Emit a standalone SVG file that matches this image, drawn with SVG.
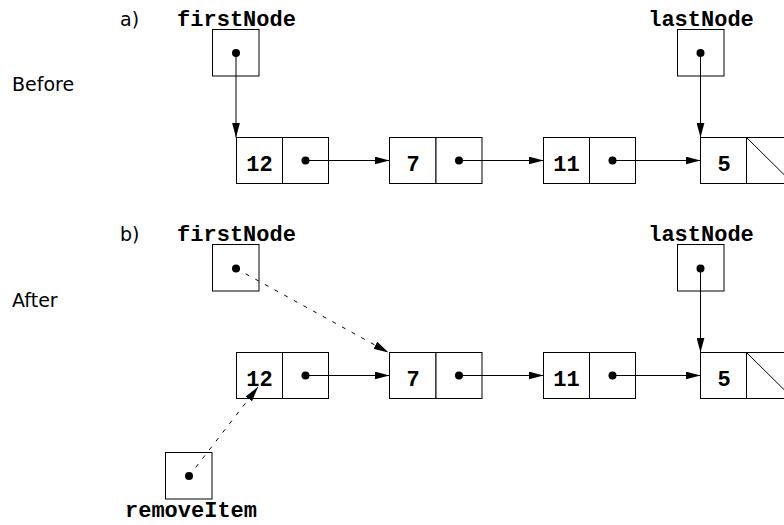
<svg xmlns="http://www.w3.org/2000/svg" width="784" height="525" viewBox="0 0 784 525">
  <style>
    .box { fill: #fff; stroke: #000; stroke-width: 1; }
    .ln { fill: none; stroke: #000; stroke-width: 1; }
    .dash { fill: none; stroke: #000; stroke-width: 1; stroke-dasharray: 4 7; }
    .dot { fill: #000; }
    .mono { font-family: "Liberation Mono", "Courier New", monospace; font-weight: bold; font-size: 22px; fill: #000; }
    .val { font-family: "Liberation Mono", "Courier New", monospace; font-weight: bold; font-size: 22px; fill: #000; text-anchor: middle; }
    .sans { font-family: "DejaVu Sans", "Liberation Sans", sans-serif; font-size: 19px; fill: #000; }
  </style>
  <defs>
    <marker id="arrow" markerUnits="userSpaceOnUse" markerWidth="15" markerHeight="8" refX="15" refY="4" orient="auto">
      <path d="M0,0 L15,4 L0,8 z" fill="#000"/>
    </marker>
  </defs>

  <!-- side labels -->
  <text class="sans" x="12" y="91">Before</text>
  <text class="sans" x="12" y="307">After</text>
  <text class="sans" x="120" y="26">a)</text>
  <text class="sans" x="120" y="241">b)</text>

  <!-- ===== a) before ===== -->
  <g id="a-firstNode">
    <text class="mono" x="236.5" y="26" text-anchor="middle">firstNode</text>
    <rect class="box" x="212.5" y="29.5" width="46.5" height="46.5"/>
    <circle class="dot" cx="236" cy="53" r="4"/>
  </g>
  <g id="a-lastNode">
    <text class="mono" x="701" y="26" text-anchor="middle">lastNode</text>
    <rect class="box" x="677.5" y="29.5" width="46.5" height="46.5"/>
    <circle class="dot" cx="700.5" cy="53" r="4"/>
  </g>
  <g id="a-node12">
    <rect class="box" x="236.5" y="137.5" width="46" height="46"/>
    <rect class="box" x="282.5" y="137.5" width="46" height="46"/>
    <text class="val" x="259.5" y="171">12</text>
    <circle class="dot" cx="305.5" cy="160.5" r="4"/>
  </g>
  <g id="a-node7">
    <rect class="box" x="389.5" y="137.5" width="46.5" height="46"/>
    <rect class="box" x="436" y="137.5" width="46" height="46"/>
    <text class="val" x="413" y="171">7</text>
    <circle class="dot" cx="459" cy="160.5" r="4"/>
  </g>
  <g id="a-node11">
    <rect class="box" x="543.5" y="137.5" width="46" height="46"/>
    <rect class="box" x="589.5" y="137.5" width="46" height="46"/>
    <text class="val" x="566.5" y="171">11</text>
    <circle class="dot" cx="612.5" cy="160.5" r="4"/>
  </g>
  <g id="a-node5">
    <rect class="box" x="700.5" y="137.5" width="46" height="46"/>
    <rect class="box" x="746.5" y="137.5" width="46.5" height="46"/>
    <text class="val" x="724" y="171">5</text>
    <line class="ln" x1="746.5" y1="137.5" x2="793" y2="183.5"/>
  </g>

  <!-- ===== b) after ===== -->
  <g id="b-firstNode">
    <text class="mono" x="236.5" y="240.5" text-anchor="middle">firstNode</text>
    <rect class="box" x="212.5" y="244.5" width="46.5" height="46.5"/>
    <circle class="dot" cx="236" cy="268.5" r="4"/>
  </g>
  <g id="b-lastNode">
    <text class="mono" x="701" y="240.5" text-anchor="middle">lastNode</text>
    <rect class="box" x="677.5" y="244.5" width="46.5" height="46.5"/>
    <circle class="dot" cx="700.5" cy="268.5" r="4"/>
  </g>
  <g id="b-node12">
    <rect class="box" x="236.5" y="352.5" width="46" height="46"/>
    <rect class="box" x="282.5" y="352.5" width="46" height="46"/>
    <text class="val" x="259.5" y="386">12</text>
    <circle class="dot" cx="305.5" cy="375.5" r="4"/>
  </g>
  <g id="b-node7">
    <rect class="box" x="389.5" y="352.5" width="46.5" height="46"/>
    <rect class="box" x="436" y="352.5" width="46" height="46"/>
    <text class="val" x="413" y="386">7</text>
    <circle class="dot" cx="459" cy="375.5" r="4"/>
  </g>
  <g id="b-node11">
    <rect class="box" x="543.5" y="352.5" width="46" height="46"/>
    <rect class="box" x="589.5" y="352.5" width="46" height="46"/>
    <text class="val" x="566.5" y="386">11</text>
    <circle class="dot" cx="612.5" cy="375.5" r="4"/>
  </g>
  <g id="b-node5">
    <rect class="box" x="700.5" y="352.5" width="46" height="46"/>
    <rect class="box" x="746.5" y="352.5" width="46.5" height="46"/>
    <text class="val" x="724" y="386">5</text>
    <line class="ln" x1="746.5" y1="352.5" x2="793" y2="398.5"/>
  </g>
  <g id="b-removeItem">
    <rect class="box" x="165.5" y="452.5" width="46.5" height="46.5"/>
    <circle class="dot" cx="189" cy="476" r="4"/>
    <text class="mono" x="191" y="517" text-anchor="middle">removeItem</text>
  </g>

  <!-- references between nodes -->
  <g id="connectors">
    <line class="ln" x1="236" y1="53" x2="236" y2="137.5" marker-end="url(#arrow)"/>
    <line class="ln" x1="700.5" y1="53" x2="700.5" y2="137.5" marker-end="url(#arrow)"/>
    <line class="ln" x1="305.5" y1="160.5" x2="389.5" y2="160.5" marker-end="url(#arrow)"/>
    <line class="ln" x1="459" y1="160.5" x2="543.5" y2="160.5" marker-end="url(#arrow)"/>
    <line class="ln" x1="612.5" y1="160.5" x2="700.5" y2="160.5" marker-end="url(#arrow)"/>

    <line class="dash" x1="236" y1="268.5" x2="388.5" y2="352.5" marker-end="url(#arrow)"/>
    <line class="ln" x1="700.5" y1="268.5" x2="700.5" y2="352.5" marker-end="url(#arrow)"/>
    <line class="ln" x1="305.5" y1="375.5" x2="389.5" y2="375.5" marker-end="url(#arrow)"/>
    <line class="ln" x1="459" y1="375.5" x2="543.5" y2="375.5" marker-end="url(#arrow)"/>
    <line class="ln" x1="612.5" y1="375.5" x2="700.5" y2="375.5" marker-end="url(#arrow)"/>
    <line class="dash" x1="189" y1="476" x2="258" y2="387" marker-end="url(#arrow)"/>
  </g>
</svg>
